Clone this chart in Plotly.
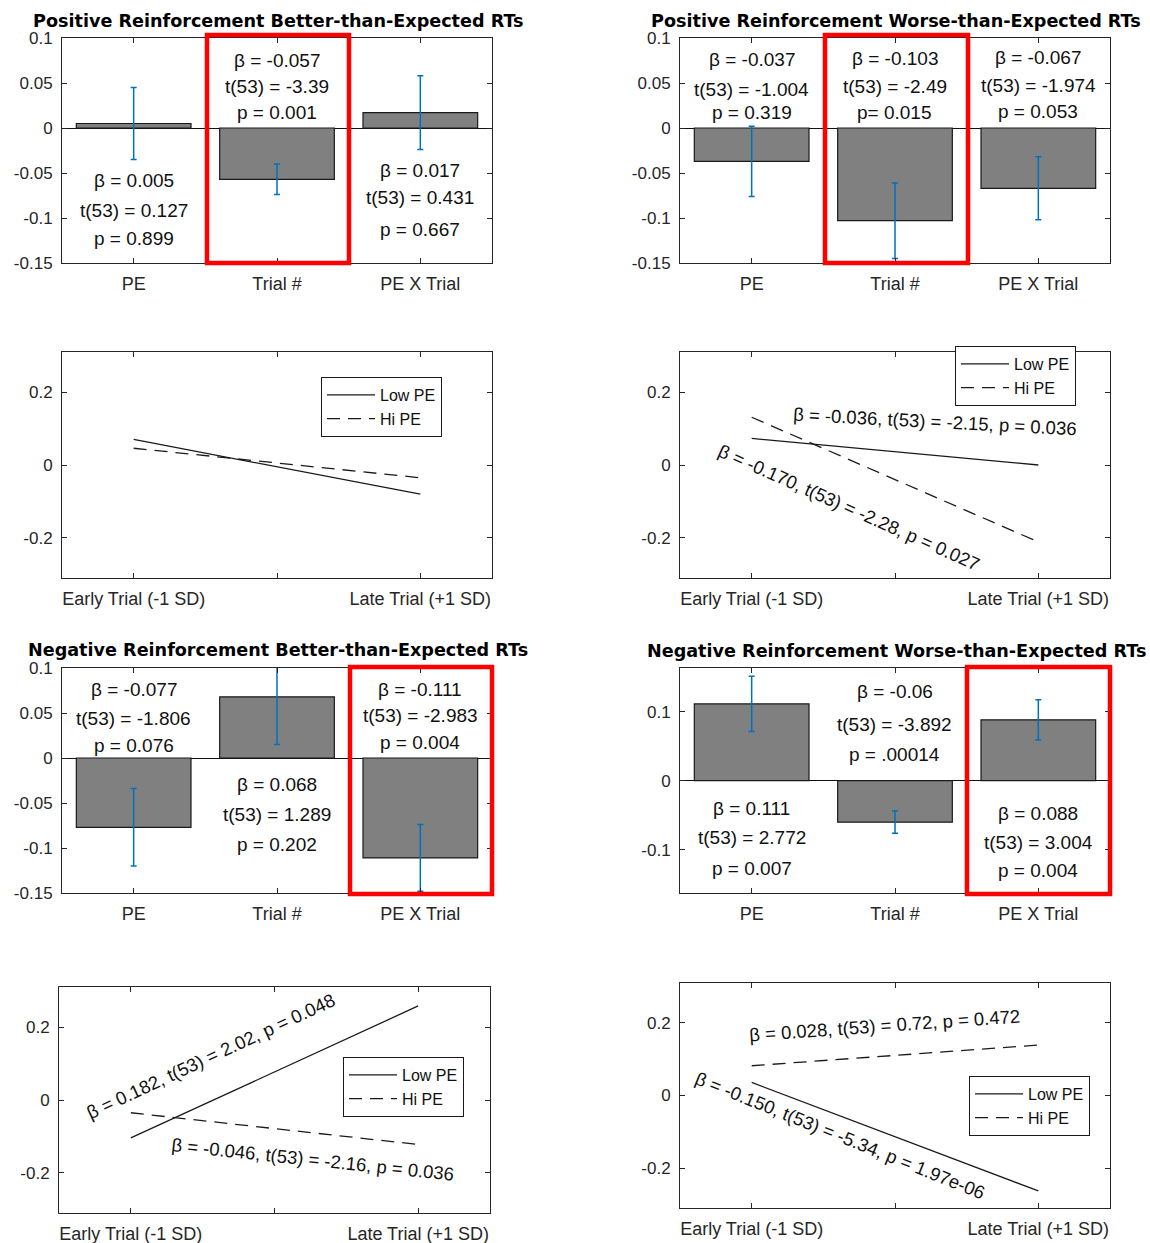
import plotly.graph_objects as go

W, H = 1150, 1243
FONT = "Liberation Sans, Arial, Helvetica, sans-serif"
TFONT = "DejaVu Sans, Liberation Sans, Arial, sans-serif"
AXC = "#262626"

# ---------------- data ----------------
categories = ["PE", "Trial #", "PE X Trial"]

pos_better_beta = [0.005, -0.057, 0.017]
pos_better_se = [0.040, 0.017, 0.041]
pos_better_stats = [["β = 0.005", "t(53) = 0.127", "p = 0.899"],
                    ["β = -0.057", "t(53) = -3.39", "p = 0.001"],
                    ["β = 0.017", "t(53) = 0.431", "p = 0.667"]]

pos_worse_beta = [-0.037, -0.103, -0.067]
pos_worse_se = [0.039, 0.042, 0.035]
pos_worse_stats = [["β = -0.037", "t(53) = -1.004", "p = 0.319"],
                   ["β = -0.103", "t(53) = -2.49", "p= 0.015"],
                   ["β = -0.067", "t(53) = -1.974", "p = 0.053"]]

neg_better_beta = [-0.077, 0.068, -0.111]
neg_better_se = [0.043, 0.053, 0.037]
neg_better_stats = [["β = -0.077", "t(53) = -1.806", "p = 0.076"],
                    ["β = 0.068", "t(53) = 1.289", "p = 0.202"],
                    ["β = -0.111", "t(53) = -2.983", "p = 0.004"]]

neg_worse_beta = [0.111, -0.060, 0.088]
neg_worse_se = [0.040, 0.016, 0.029]
neg_worse_stats = [["β = 0.111", "t(53) = 2.772", "p = 0.007"],
                   ["β = -0.06", "t(53) = -3.892", "p = .00014"],
                   ["β = 0.088", "t(53) = 3.004", "p = 0.004"]]

titles = ["Positive Reinforcement Better-than-Expected RTs",
          "Positive Reinforcement Worse-than-Expected RTs",
          "Negative Reinforcement Better-than-Expected RTs",
          "Negative Reinforcement Worse-than-Expected RTs"]

trial_sd = [-1, 1]
trial_tickvals = [-1, 0, 1]
trial_ticktext = ["Early Trial (-1 SD)", "", "Late Trial (+1 SD)"]
series_names = ["Low PE", "Hi PE"]

pos_better_low = [0.070, -0.080]
pos_better_hi = [0.046, -0.035]
pos_worse_low = [0.073, 0.000]
pos_worse_hi = [0.131, -0.211]
neg_better_low = [-0.104, 0.258]
neg_better_hi = [-0.035, -0.122]
neg_worse_low = [0.036, -0.263]
neg_worse_hi = [0.082, 0.139]

pos_worse_slopes = ["β = -0.036, t(53) = -2.15, p = 0.036",
                    "β = -0.170, t(53) = -2.28, p = 0.027"]
neg_better_slopes = ["β = 0.182, t(53) = 2.02, p = 0.048",
                     "β = -0.046, t(53) = -2.16, p = 0.036"]
neg_worse_slopes = ["β = 0.028, t(53) = 0.72, p = 0.472",
                    "β = -0.150, t(53) = -5.34, p = 1.97e-06"]

bar_ticks_a = [-0.15, -0.1, -0.05, 0, 0.05, 0.1]
bar_ticktext_a = ["-0.15", "-0.1", "-0.05", "0", "0.05", "0.1"]
bar_ticks_b = [-0.1, 0, 0.1]
bar_ticktext_b = ["-0.1", "0", "0.1"]
line_ticks = [-0.2, 0, 0.2]
line_ticktext = ["-0.2", "0", "0.2"]

# ---------------- layout helpers (reference pixels -> paper) ----------------
def fx(px):
    return px / W

def fy(py):
    return 1 - py / H

fig = go.Figure()
annotations = []
shapes = []
layout = {}

bar_panels = [
    dict(beta=pos_better_beta, se=pos_better_se, stats=pos_better_stats, title=titles[0],
         box=(62, 492, 38, 263), yr=[-0.15, 0.1], tv=bar_ticks_a, tt=bar_ticktext_a,
         ty=21, red=(207, 349, 35, 263),
         text_y=[[180, 210, 239], [61, 86, 112], [170, 197, 229]]),
    dict(beta=pos_worse_beta, se=pos_worse_se, stats=pos_worse_stats, title=titles[1],
         box=(680, 1110, 38, 263), yr=[-0.15, 0.1], tv=bar_ticks_a, tt=bar_ticktext_a,
         ty=21, red=(825, 968, 35, 263),
         text_y=[[60, 89, 112], [59, 86, 112], [58, 85, 111]]),
    dict(beta=neg_better_beta, se=neg_better_se, stats=neg_better_stats, title=titles[2],
         box=(62, 492, 668, 893), yr=[-0.15, 0.1], tv=bar_ticks_a, tt=bar_ticktext_a,
         ty=650, red=(350, 492, 667, 894),
         text_y=[[689, 718, 745], [784, 814, 845], [689, 715, 742]]),
    dict(beta=neg_worse_beta, se=neg_worse_se, stats=neg_worse_stats, title=titles[3],
         box=(680, 1110, 668, 893), yr=[-0.1625, 0.163], tv=bar_ticks_b, tt=bar_ticktext_b,
         ty=651, red=(967, 1110, 667, 894),
         text_y=[[808, 837, 868], [691, 724, 754], [813, 842, 870]]),
]

line_panels = [
    dict(low=pos_better_low, hi=pos_better_hi, box=(62, 492, 352, 578),
         legend=(321, 377), slopes=[], slope_pos=[]),
    dict(low=pos_worse_low, hi=pos_worse_hi, box=(680, 1110, 352, 578),
         legend=(955, 346), slopes=pos_worse_slopes,
         slope_pos=[(935, 422, 3), (849, 508, 24)]),
    dict(low=neg_better_low, hi=neg_better_hi, box=(59, 490, 987, 1213),
         legend=(343, 1057), slopes=neg_better_slopes,
         slope_pos=[(210, 1056, -25), (313, 1159, 6)]),
    dict(low=neg_worse_low, hi=neg_worse_hi, box=(680, 1110, 983, 1208),
         legend=(969, 1076), slopes=neg_worse_slopes,
         slope_pos=[(884, 1025, -4), (840, 1135, 22)]),
]

axis_common = dict(showline=True, linecolor=AXC, linewidth=1, mirror="ticks",
                   ticks="inside", ticklen=5, tickcolor=AXC, showgrid=False,
                   fixedrange=True, automargin=False)
yfont = dict(family=FONT, size=17, color=AXC)
xfont = dict(family=FONT, size=18, color=AXC)

ax_idx = 0
order = [("bar", 0), ("bar", 1), ("line", 0), ("line", 1),
         ("bar", 2), ("bar", 3), ("line", 2), ("line", 3)]

for kind, i in order:
    ax_idx += 1
    xa = "xaxis" if ax_idx == 1 else f"xaxis{ax_idx}"
    ya = "yaxis" if ax_idx == 1 else f"yaxis{ax_idx}"
    xr = "x" if ax_idx == 1 else f"x{ax_idx}"
    yr = "y" if ax_idx == 1 else f"y{ax_idx}"
    if kind == "bar":
        p = bar_panels[i]
        x0, x1, y0, y1 = p["box"]
        fig.add_trace(go.Bar(
            x=categories, y=p["beta"], width=0.8, xaxis=xr, yaxis=yr,
            marker=dict(color="#808080", line=dict(color="#1a1a1a", width=1.2)),
            error_y=dict(type="data", array=p["se"], color="#0072BD", thickness=1.5, width=3),
            showlegend=False))
        layout[xa] = dict(axis_common, domain=[fx(x0), fx(x1)], anchor=yr,
                          type="category", range=[-0.5, 2.5], zeroline=False,
                          tickfont=xfont, ticklabelstandoff=4)
        layout[ya] = dict(axis_common, domain=[fy(y1), fy(y0)], anchor=xr,
                          range=p["yr"], tickvals=p["tv"], ticktext=p["tt"],
                          tickfont=yfont, ticklabelstandoff=5,
                          zeroline=True, zerolinecolor="#111111", zerolinewidth=1)
        annotations.append(dict(text=p["title"], x=fx((x0 + x1) / 2 + 1), y=fy(p["ty"]),
                                xref="paper", yref="paper", showarrow=False,
                                xanchor="center", yanchor="middle",
                                font=dict(family=TFONT, size=17.6, color="#000000", weight="bold")))
        step = (x1 - x0) / 3.0
        for k, lines in enumerate(p["stats"]):
            cx = x0 + step * (k + 0.5)
            for line_txt, py in zip(lines, p["text_y"][k]):
                annotations.append(dict(text=line_txt, x=fx(cx), y=fy(py),
                                        xref="paper", yref="paper", showarrow=False,
                                        xanchor="center", yanchor="middle",
                                        font=dict(family=FONT, size=19, color="#111111")))
        rx0, rx1, ry0, ry1 = p["red"]
        shapes.append(dict(type="rect", xref="paper", yref="paper",
                           x0=fx(rx0), x1=fx(rx1), y0=fy(ry1), y1=fy(ry0),
                           line=dict(color="#ff0000", width=4.5), layer="above"))
    else:
        p = line_panels[i]
        x0, x1, y0, y1 = p["box"]
        lg = "legend" if i == 0 else f"legend{i + 1}"
        fig.add_trace(go.Scatter(x=trial_sd, y=p["low"], mode="lines", name=series_names[0],
                                 line=dict(color="#1a1a1a", width=1.3),
                                 xaxis=xr, yaxis=yr, legend=lg))
        fig.add_trace(go.Scatter(x=trial_sd, y=p["hi"], mode="lines", name=series_names[1],
                                 line=dict(color="#1a1a1a", width=1.3, dash="13px,8px"),
                                 xaxis=xr, yaxis=yr, legend=lg))
        layout[xa] = dict(axis_common, domain=[fx(x0), fx(x1)], anchor=yr,
                          range=[-1.5, 1.5], tickvals=trial_tickvals, ticktext=trial_ticktext,
                          tickfont=xfont, ticklabelstandoff=4, zeroline=False)
        layout[ya] = dict(axis_common, domain=[fy(y1), fy(y0)], anchor=xr,
                          range=[-0.31, 0.31], tickvals=line_ticks, ticktext=line_ticktext,
                          tickfont=yfont, ticklabelstandoff=5, zeroline=False)
        lx, ly = p["legend"]
        layout[lg] = dict(x=fx(lx), y=fy(ly), xanchor="left", yanchor="top",
                          xref="paper", yref="paper",
                          bordercolor="#1a1a1a", borderwidth=1, bgcolor="white",
                          font=dict(family=FONT, size=16, color="#111111"),
                          tracegroupgap=0, itemwidth=48)
        for txt, (cx, cy, ang) in zip(p["slopes"], p["slope_pos"]):
            annotations.append(dict(text=txt, x=fx(cx), y=fy(cy), xref="paper", yref="paper",
                                    showarrow=False, xanchor="center", yanchor="middle",
                                    textangle=ang,
                                    font=dict(family=FONT, size=18.5, color="#111111")))

fig.update_layout(**layout)
fig.update_layout(width=W, height=H, margin=dict(l=0, r=0, t=0, b=0, autoexpand=False),
                  paper_bgcolor="white", plot_bgcolor="white",
                  annotations=annotations, shapes=shapes,
                  font=dict(family=FONT), bargap=0.2)

fig.write_html("out.html", config={"displayModeBar": False},
               post_script="document.body.style.margin='0px';document.body.style.overflow='hidden';")
